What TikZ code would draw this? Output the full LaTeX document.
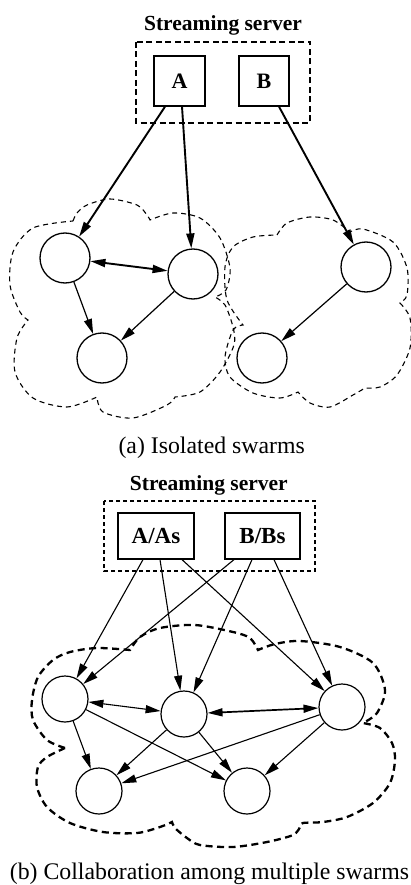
\documentclass[tikz,border=0pt]{standalone}
\usepackage{fontspec}
\setmainfont{Liberation Serif}
\usetikzlibrary{arrows.meta}
\tikzset{
  arrtip/.style={-{Triangle[length=15pt,width=8pt]}},
  darrtip/.style={{Triangle[length=15pt,width=8pt]}-{Triangle[length=15pt,width=8pt]}},
  srvbox/.style={draw,line width=1.3pt,inner sep=0pt},
  peerA/.style={draw,circle,line width=1.3pt,minimum size=50pt,inner sep=0pt},
  peerB/.style={draw,circle,line width=1.2pt,minimum size=46pt,inner sep=0pt},
  thickarr/.style={line width=1.9pt},
  thinarr/.style={line width=1.2pt},
  botarr/.style={line width=1.1pt},
  cloudA/.style={line width=1.1pt,dash pattern=on 5pt off 4pt},
  cloudB/.style={line width=2.3pt,dash pattern=on 7pt off 4.5pt},
  boxA/.style={line width=1.9pt,dash pattern=on 6pt off 3.5pt},
  boxB/.style={line width=1.1pt,dash pattern=on 4pt off 3pt},
  ttltxt/.style={font=\fontsize{21.5}{24}\selectfont\bfseries,inner sep=0pt,anchor=base},
  captxt/.style={font=\fontsize{23.8}{27}\selectfont,inner sep=0pt,anchor=base},
}
\begin{document}
\begin{tikzpicture}[x=1pt,y=-1pt]
\useasboundingbox (0,0) rectangle (411,885);
% ---------- (a) ----------
\node[ttltxt] (ta) at (223,30.7) {Streaming server};
\draw[boxA] (136,42) rectangle (310,123);
\node[srvbox,minimum width=51pt,minimum height=50pt,font=\fontsize{22}{24}\selectfont\bfseries] (A) at (179.5,81) {A};
\node[srvbox,minimum width=50pt,minimum height=50pt,font=\fontsize{22}{24}\selectfont\bfseries] (B) at (264,81) {B};
% clouds
\draw[cloudA] plot[smooth] coordinates {(73,221) (77,213) (87,205) (110,199) (137,205) (147,215) (150,220)}
 -- plot[smooth] coordinates {(150,220) (173,213) (200,218) (220,238) (230,268) (226,290) (215,297)}
 -- plot[smooth] coordinates {(215,297) (225,305) (233,327) (234,345) (220,372) (200,392) (175,397)}
 -- plot[smooth] coordinates {(175,397) (167,405) (133,418) (103,412) (97,397)}
 -- plot[smooth] coordinates {(97,397) (67,407) (33,398) (15,372) (17,338) (28,320)}
 -- plot[smooth] coordinates {(28,320) (20,312) (10,285) (13,252) (33,228) (73,221)};
\draw[cloudA] plot[smooth] coordinates {(277,235) (287,223) (310,217) (333,220) (350,232)}
 -- plot[smooth] coordinates {(350,232) (363,229) (393,242) (407,268) (407,295) (400,303)}
 -- plot[smooth] coordinates {(400,303) (410,318) (410,348) (397,375) (380,387) (365,388)}
 -- plot[smooth] coordinates {(365,388) (353,395) (330,407) (310,403) (298,392)}
 -- plot[smooth] coordinates {(298,392) (280,398) (253,393) (230,377) (225,357) (233,330) (243,325)}
 -- plot[smooth] coordinates {(243,325) (227,300) (225,267) (233,247) (253,237) (277,235)};
% peers
\node[peerA] (t1) at (65,258) {};
\node[peerA] (t2) at (193,274) {};
\node[peerA] (t3) at (102,358) {};
\node[peerA] (t4) at (366,267) {};
\node[peerA] (t5) at (262,358) {};
% connectors
\draw[thickarr,arrtip] ([xshift=-14.5pt]A.south) -- (t1);
\draw[thickarr,arrtip] ([xshift=2.5pt]A.south) -- (t2);
\draw[thickarr,arrtip] ([xshift=15pt]B.south) -- (t4);
\draw[thickarr,darrtip] (t1) -- (t2);
\draw[thinarr,arrtip] (t1) -- (t3);
\draw[thinarr,arrtip] (t2) -- (t3);
\draw[thinarr,arrtip] (t4) -- (t5);
\node[captxt] (capa) at (211.7,453) {(a) Isolated swarms};
% ---------- (b) ----------
\node[ttltxt] (tb) at (208.8,490) {Streaming server};
\draw[boxB] (104,501) rectangle (315,571);
\node[srvbox,line width=1.2pt,minimum width=76pt,minimum height=46pt,font=\fontsize{23}{25}\selectfont\bfseries] (As) at (156,536) {A/As};
\node[srvbox,line width=1.2pt,minimum width=75pt,minimum height=46pt,font=\fontsize{23}{25}\selectfont\bfseries] (Bs) at (262.5,536) {B/Bs};
\draw[cloudB] plot[smooth] coordinates {(65,748) (47,740) (33,720) (32,700) (38,677) (53,660) (70,652) (97,648) (130,650)}
 -- plot[smooth] coordinates {(130,650) (140,637) (160,628) (195,625) (233,632) (250,638) (258,650)}
 -- plot[smooth] coordinates {(258,650) (275,644) (300,641) (340,647) (373,663) (385,690) (377,713) (363,723)}
 -- plot[smooth] coordinates {(363,723) (380,728) (392,743) (395,760) (390,783) (373,803) (347,817) (323,822) (303,823) (300,827)}
 -- plot[smooth] coordinates {(300,827) (293,835) (267,842) (233,847) (200,845) (187,838) (175,828) (172,822)}
 -- plot[smooth] coordinates {(172,822) (160,827) (137,833) (103,832) (70,823) (47,807) (37,787) (38,767) (47,757) (65,748)};
\node[peerB] (b1) at (65,699) {};
\node[peerB] (b2) at (184,714) {};
\node[peerB] (b3) at (342,707) {};
\node[peerB] (b4) at (99,791) {};
\node[peerB] (b5) at (247,791) {};
\draw[botarr,arrtip] ([xshift=-13pt]As.south) -- (b1);
\draw[botarr,arrtip] ([xshift=4pt]As.south) -- (b2);
\draw[botarr,arrtip] ([xshift=26pt]As.south) -- (b3);
\draw[botarr,arrtip] ([xshift=-28.5pt]Bs.south) -- (b1);
\draw[botarr,arrtip] ([xshift=-10.5pt]Bs.south) -- (b2);
\draw[botarr,arrtip] ([xshift=11.5pt]Bs.south) -- (b3);
\draw[botarr,darrtip] (b1) -- (b2);
\draw[line width=1.7pt,darrtip] (b2) -- (b3);
\draw[botarr,arrtip] (b1) -- (b4);
\draw[botarr,arrtip] (b1) -- (b5);
\draw[botarr,arrtip] (b2) -- (b4);
\draw[botarr,arrtip] (b2) -- (b5);
\draw[botarr,arrtip] (b3) -- (b4);
\draw[botarr,arrtip] (b3) -- (b5);
\node[captxt] (capb) at (209.5,879) {(b) Collaboration among multiple swarms};
\end{tikzpicture}
\end{document}
